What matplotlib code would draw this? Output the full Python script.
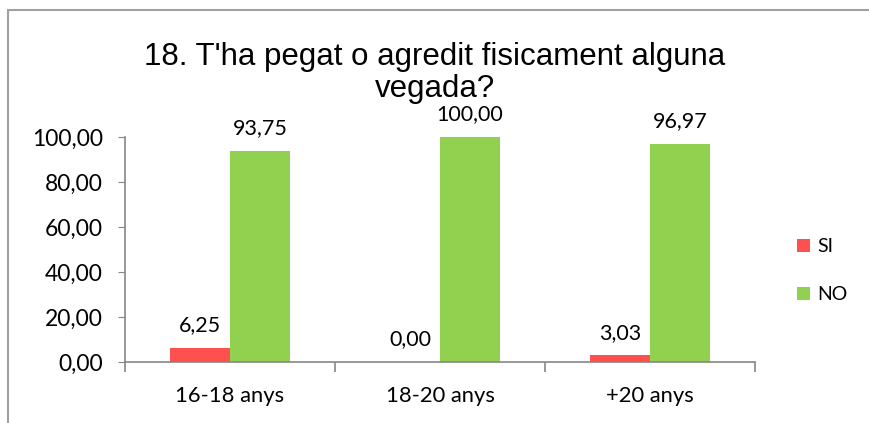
import numpy as np
import matplotlib.pyplot as plt
from matplotlib.patches import Rectangle

categories = ['16-18 anys', '18-20 anys', '+20 anys']
si_values = [6.25, 0.00, 3.03]
no_values = [93.75, 100.00, 96.97]
series_names = ['SI', 'NO']
title = "18. T'ha pegat o agredit fisicament alguna\nvegada?"

red = '#FF5050'
green = '#92D050'
axis_grey = '#868686'

fig = plt.figure(figsize=(8.69, 4.23), dpi=100)
ax = fig.add_axes([125 / 869, 1 - 362 / 423, 630 / 869, 225 / 423])

x = np.arange(len(categories))
w = 60 / 210
b1 = ax.bar(x - w / 2, si_values, w, color=red, label=series_names[0])
b2 = ax.bar(x + w / 2, no_values, w, color=green, label=series_names[1])

fam = ['Lato', 'DejaVu Sans']
for bars, vals in ((b1, si_values), (b2, no_values)):
    for r, v in zip(bars, vals):
        ax.annotate(f'{v:.2f}'.replace('.', ','),
                    (r.get_x() + r.get_width() / 2, v),
                    xytext=(0, 9), textcoords='offset points',
                    ha='center', va='bottom', color='black',
                    family=fam, size=15.5)

ax.set_xlim(-0.5, len(categories) - 0.5)
ax.set_ylim(0, 100)
yt = np.arange(0, 101, 20)
ax.set_yticks(yt)
ax.set_yticklabels([f'{v:.2f}'.replace('.', ',') for v in yt],
                   family=fam, size=16.5)
ax.set_xticks(x)
ax.set_xticklabels(categories, family=fam, size=15.8)
ax.tick_params(axis='x', length=0, pad=17)
ax.tick_params(axis='y', length=5, color=axis_grey, pad=11)
# category separator ticks
ax.set_xticks(np.arange(len(categories) + 1) - 0.5, minor=True)
ax.tick_params(axis='x', which='minor', length=7, color=axis_grey, width=1.2)

for s in ('top', 'right'):
    ax.spines[s].set_visible(False)
for s in ('left', 'bottom'):
    ax.spines[s].set_color(axis_grey)
    ax.spines[s].set_linewidth(1.2)

fig.text(435 / 869, 1 - 73 / 423, title, ha='center', va='center',
         family=['Liberation Sans', 'DejaVu Sans'], size=22.5, linespacing=1.12)

leg = ax.legend(loc='upper left', bbox_to_anchor=(797 / 869, 1 - 238 / 423),
                bbox_transform=fig.transFigure, frameon=False,
                prop=dict(family=fam, size=14),
                handlelength=0.65, handleheight=0.65, handletextpad=0.4,
                labelspacing=1.6, borderaxespad=0, borderpad=0)

fig.patches.append(Rectangle((8 / 869, -0.2), 1.2, 1 - 10 / 423 + 0.2,
                             transform=fig.transFigure, fill=False,
                             edgecolor='#A0A0A0', linewidth=1.5))

fig.savefig('out.png', dpi=100)
